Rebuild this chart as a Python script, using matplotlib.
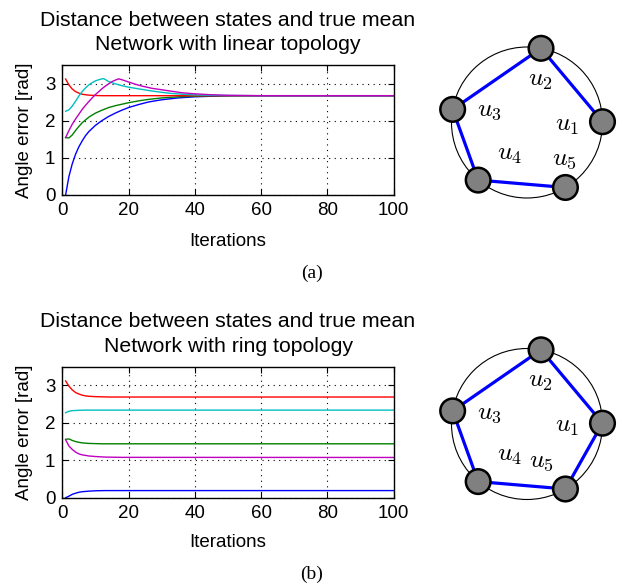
import matplotlib
matplotlib.use('Agg')
import matplotlib.pyplot as plt
from matplotlib.patches import Circle
import numpy as np

# ---------------- data: linear topology ----------------
lin_blue_x = [1, 2, 3, 4, 5, 6, 7, 8, 10, 12, 14, 16, 18, 20, 23, 26, 30, 35, 40, 45, 50, 55, 60, 100]
lin_blue_y = [0.00, 0.50, 0.84, 1.10, 1.30, 1.46, 1.60, 1.71, 1.88, 2.01, 2.12, 2.21, 2.29, 2.36,
              2.44, 2.51, 2.57, 2.62, 2.65, 2.665, 2.675, 2.68, 2.68, 2.68]
lin_green_x = [1, 2, 3, 4, 5, 6, 8, 10, 12, 14, 16, 18, 20, 23, 26, 30, 35, 40, 45, 50, 60, 100]
lin_green_y = [1.55, 1.54, 1.62, 1.74, 1.85, 1.95, 2.10, 2.21, 2.29, 2.36, 2.41, 2.45, 2.49, 2.54,
               2.58, 2.62, 2.65, 2.665, 2.675, 2.68, 2.68, 2.68]
lin_red_x = [1, 2, 3, 4, 5, 6, 7, 8, 10, 12, 15, 100]
lin_red_y = [3.13, 2.97, 2.86, 2.79, 2.75, 2.72, 2.705, 2.695, 2.685, 2.68, 2.68, 2.68]
lin_cyan_x = [1, 2, 3, 4, 5, 6, 7, 8, 9, 10, 11, 12, 12.5, 14, 16, 18, 20, 22, 26, 30, 33, 36,
              40, 45, 50, 60, 100]
lin_cyan_y = [2.26, 2.30, 2.40, 2.53, 2.67, 2.79, 2.89, 2.97, 3.03, 3.08, 3.11, 3.135, 3.14, 3.06,
              3.00, 2.95, 2.91, 2.88, 2.82, 2.77, 2.74, 2.72, 2.70, 2.69, 2.685, 2.68, 2.68]
lin_mag_x = [1, 2, 3, 4, 5, 6, 7, 8, 9, 10, 11, 12, 13, 14, 15, 16, 17, 18, 20, 22, 24, 27, 30,
             33, 36, 40, 45, 50, 55, 60, 100]
lin_mag_y = [1.55, 1.74, 1.91, 2.05, 2.18, 2.31, 2.42, 2.52, 2.62, 2.71, 2.79, 2.87, 2.94, 3.00,
             3.06, 3.10, 3.135, 3.11, 3.05, 2.99, 2.94, 2.88, 2.84, 2.80, 2.76, 2.73, 2.705,
             2.69, 2.685, 2.68, 2.68]

# ---------------- data: ring topology ----------------
ring_blue_x = [1, 2, 3, 4, 5, 6, 8, 10, 13, 100]
ring_blue_y = [0.00, 0.04, 0.09, 0.12, 0.145, 0.16, 0.175, 0.185, 0.19, 0.19]
ring_green_x = [1, 2, 3, 4, 5, 6, 8, 10, 12, 100]
ring_green_y = [1.56, 1.57, 1.53, 1.50, 1.48, 1.465, 1.45, 1.445, 1.44, 1.44]
ring_red_x = [1, 2, 3, 4, 5, 6, 7, 8, 10, 12, 14, 100]
ring_red_y = [3.12, 2.98, 2.88, 2.81, 2.77, 2.74, 2.72, 2.71, 2.70, 2.695, 2.69, 2.69]
ring_cyan_x = [1, 2, 3, 4, 5, 7, 100]
ring_cyan_y = [2.27, 2.31, 2.325, 2.33, 2.335, 2.34, 2.34]
ring_mag_x = [1, 2, 3, 4, 5, 6, 8, 10, 13, 18, 100]
ring_mag_y = [1.55, 1.38, 1.29, 1.22, 1.17, 1.145, 1.115, 1.10, 1.085, 1.078, 1.075]

x_ticks = [0, 20, 40, 60, 80, 100]
y_ticks = [0, 1, 2, 3]
title_line1 = "Distance between states and true mean"
title_lin = "Network with linear topology"
title_ring = "Network with ring topology"
xlabel = "Iterations"
ylabel = "Angle error [rad]"

# ---------------- network diagram ----------------
node_angles_deg = [0.6, 79.3, 170.0, 229.7, 300.6]
node_names = ['$u_1$', '$u_2$', '$u_3$', '$u_4$', '$u_5$']
lin_edges = [(0, 1), (1, 2), (2, 3), (3, 4)]
ring_edges = lin_edges + [(4, 0)]
lin_label_xy = [(0.53, -0.03), (0.18, 0.56), (-0.50, 0.16), (-0.23, -0.42), (0.50, -0.49)]
ring_label_xy = [(0.53, -0.02), (0.18, 0.57), (-0.50, 0.15), (-0.23, -0.41), (0.19, -0.49)]

# ---------------- figure ----------------
plt.rcParams['font.family'] = ['Liberation Sans', 'DejaVu Sans']
plt.rcParams['mathtext.fontset'] = 'cm'

W, H = 617, 585
fig = plt.figure(figsize=(W / 100, H / 100), dpi=100)


def fx(px):
    return px / W


def fy(py):
    return 1 - py / H


col_b = (0, 0, 1)
col_g = (0, 0.5, 0)
col_r = (1, 0, 0)
col_c = (0, 0.75, 0.75)
col_m = (0.75, 0, 0.75)

AX_L, AX_R = 62.3, 393.7
XC = (AX_L + AX_R) / 2


def make_plot(top_px, bot_px, series, title2, base1, base2, xlab_base, sub, sub_y):
    ax = fig.add_axes([fx(AX_L), fy(bot_px), (AX_R - AX_L) / W, (bot_px - top_px) / H])
    for x, y, c in series:
        ax.plot(x, y, color=c, lw=1.0)
    ax.set_xlim(0, 100)
    ax.set_ylim(0, 3.5)
    ax.set_xticks(x_ticks)
    ax.set_yticks(y_ticks)
    ax.grid(True, color='black', linestyle=(0, (1, 4)), lw=0.8)
    ax.tick_params(direction='in', top=True, right=True, length=4, width=0.8,
                   labelsize=13.5, pad=5)
    for s in ax.spines.values():
        s.set_linewidth(1.0)
    fig.text(fx(XC), fy(base1), title_line1, ha='center', va='baseline', fontsize=15.3)
    fig.text(fx(XC), fy(base2), title2, ha='center', va='baseline', fontsize=15.3)
    fig.text(fx(XC), fy(xlab_base), xlabel, ha='center', va='baseline', fontsize=13.5)
    fig.text(fx(24.5), fy((top_px + bot_px) / 2), ylabel, rotation=90, ha='center',
             va='center', fontsize=13.5)
    fig.text(fx(311.7), fy(sub_y), sub, ha='center', va='center', fontsize=14,
             family='Liberation Serif')
    return ax


def make_graph(cx, cy, edges, label_xy):
    R = 75.5
    half = 100
    ax = fig.add_axes([fx(cx - half), fy(cy + half), 2 * half / W, 2 * half / H])
    lim = half / R
    ax.set_xlim(-lim, lim)
    ax.set_ylim(-lim, lim)
    ax.axis('off')
    ax.add_patch(Circle((0, 0), 1.0, fill=False, ec='black', lw=0.8, zorder=1))
    ang = np.deg2rad(node_angles_deg)
    xs, ys = np.cos(ang), np.sin(ang)
    for i, j in edges:
        ax.plot([xs[i], xs[j]], [ys[i], ys[j]], color=(0, 0, 1), lw=2.3, zorder=2,
                solid_capstyle='round')
    for k in range(len(xs)):
        ax.add_patch(Circle((xs[k], ys[k]), 0.163, fc='#808080', ec='black', lw=1.8, zorder=3))
    for name, (lx, ly) in zip(node_names, label_xy):
        ax.text(lx, ly, name, ha='center', va='center', fontsize=18.5, zorder=4)


lin_series = [(lin_blue_x, lin_blue_y, col_b), (lin_green_x, lin_green_y, col_g),
              (lin_red_x, lin_red_y, col_r), (lin_cyan_x, lin_cyan_y, col_c),
              (lin_mag_x, lin_mag_y, col_m)]
ring_series = [(ring_blue_x, ring_blue_y, col_b), (ring_green_x, ring_green_y, col_g),
               (ring_red_x, ring_red_y, col_r), (ring_cyan_x, ring_cyan_y, col_c),
               (ring_mag_x, ring_mag_y, col_m)]

make_plot(65.3, 195.0, lin_series, title_lin, 26.5, 50.0, 245.7, '(a)', 273)
make_plot(366.7, 497.7, ring_series, title_ring, 327.0, 351.5, 547.0, '(b)', 574)

make_graph(527, 122.5, lin_edges, lin_label_xy)
make_graph(527, 424.0, ring_edges, ring_label_xy)

fig.savefig('out.png', dpi=100)
